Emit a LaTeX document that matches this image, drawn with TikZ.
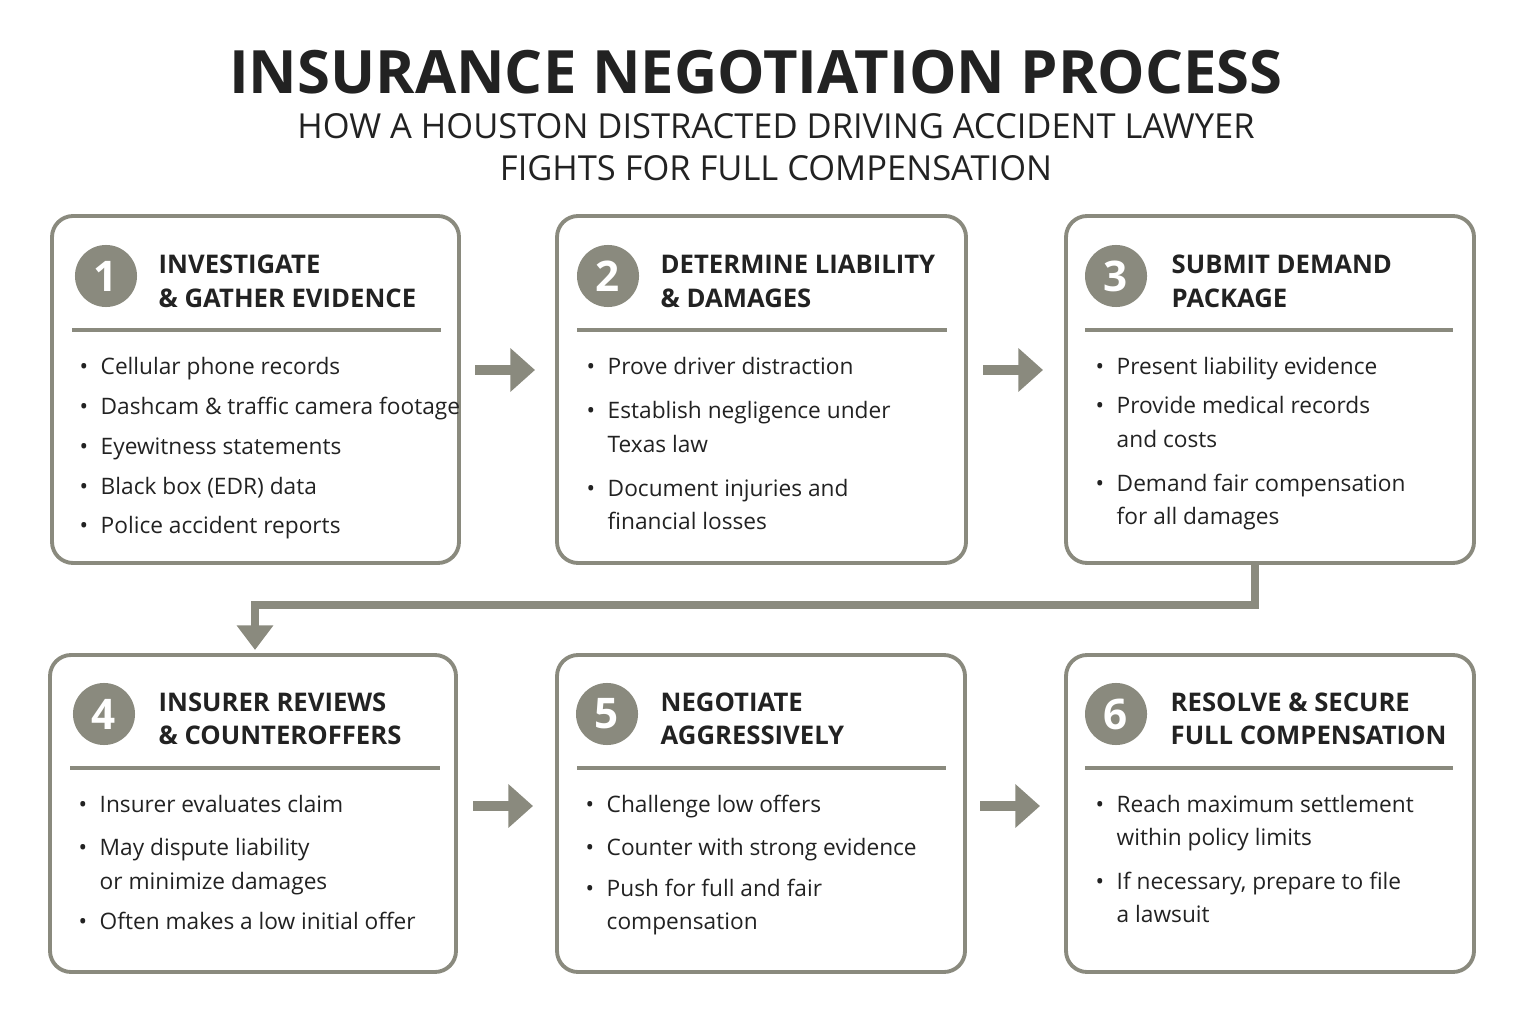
\documentclass[tikz,border=0pt]{standalone}
\usepackage{fontspec}
\setmainfont{Open Sans}
\usetikzlibrary{positioning, arrows.meta}
\definecolor{stepgray}{HTML}{8A8A7E}
\definecolor{inkgray}{HTML}{222222}
\tikzset{
  box/.style={draw=stepgray, line width=1.1pt, rounded corners=6pt},
  num/.style={circle, fill=stepgray, minimum size=6.2mm, inner sep=0pt, text=white, font=\bfseries\fontsize{12}{12}\selectfont},
  head/.style={anchor=base west, font=\bfseries\fontsize{7.3}{9.4}\selectfont, text=inkgray, inner sep=0pt},
  items/.style={anchor=base west, font=\fontsize{6.45}{9.5}\selectfont, text=inkgray, inner sep=0pt},
  sep/.style={draw=stepgray, line width=0.9pt},
  nextstep/.style={draw=stepgray, line width=3pt, -{Triangle[length=7pt,width=12pt]}},
}
\newcommand{\hd}[2]{\begin{tabular}[t]{@{}l@{}}#1\\#2\end{tabular}}
\newenvironment{blist}{\begin{tabular}[t]{@{}p{2.1mm}@{}l@{}}}{\end{tabular}}
\newcommand{\bu}{\textbullet &}
\begin{document}
\begin{tikzpicture}[x=0.01cm,y=-0.01cm]
\useasboundingbox (0,0) rectangle (1522,1022);
% title
\node[font=\bfseries\fontsize{17}{17}\selectfont, text=inkgray] (title) at (756,72) {INSURANCE NEGOTIATION PROCESS};
\node[font=\fontsize{9.8}{12}\selectfont, text=inkgray, align=center] (sub) at (776,147) {HOW A HOUSTON DISTRACTED DRIVING ACCIDENT LAWYER\\FIGHTS FOR FULL COMPENSATION};

% row 1
\draw[box] (52,216) rectangle (459,563);
\node[num] (n1) at (106,276) {1};
\node[head] (h1) at (158,274) {\hd{INVESTIGATE}{\& GATHER EVIDENCE}};
\draw[sep] (72,330) -- (441,330);
\node[items] (i1) at (79,375) {\begin{blist}\bu Cellular phone records\\[1.8pt]\bu Dashcam \& traffic camera footage\\[1.8pt]\bu Eyewitness statements\\[1.8pt]\bu Black box (EDR) data\\[1.8pt]\bu Police accident reports\end{blist}};

\draw[box] (557,216) rectangle (966,563);
\node[num] (n2) at (608,276) {2};
\node[head] (h2) at (660,274) {\hd{DETERMINE LIABILITY}{\& DAMAGES}};
\draw[sep] (577,330) -- (947,330);
\node[items] (i2) at (586,375) {\begin{blist}\bu Prove driver distraction\\[3pt]\bu Establish negligence under\\ & Texas law\\[3pt]\bu Document injuries and\\ & financial losses\end{blist}};

\draw[box] (1066,216) rectangle (1474,563);
\node[num] (n3) at (1116,276) {3};
\node[head] (h3) at (1171,274) {\hd{SUBMIT DEMAND}{PACKAGE}};
\draw[sep] (1085,330) -- (1453,330);
\node[items] (i3) at (1095,375) {\begin{blist}\bu Present liability evidence\\[1.5pt]\bu Provide medical records\\ & and costs\\[3pt]\bu Demand fair compensation\\ & for all damages\end{blist}};

% row 2
\draw[box] (50,655) rectangle (456,972);
\node[num] (n4) at (104,714) {4};
\node[head] (h4) at (158,711) {\hd{INSURER REVIEWS}{\& COUNTEROFFERS}};
\draw[sep] (70,768) -- (440,768);
\node[items] (i4) at (78,812) {\begin{blist}\bu Insurer evaluates claim\\[3pt]\bu May dispute liability\\ & or minimize damages\\[2pt]\bu Often makes a low initial offer\end{blist}};

\draw[box] (557,655) rectangle (965,972);
\node[num] (n5) at (607,714) {5};
\node[head] (h5) at (660,711) {\hd{NEGOTIATE}{AGGRESSIVELY}};
\draw[sep] (577,768) -- (946,768);
\node[items] (i5) at (585,812) {\begin{blist}\bu Challenge low offers\\[3pt]\bu Counter with strong evidence\\[2pt]\bu Push for full and fair\\ & compensation\end{blist}};

\draw[box] (1066,655) rectangle (1474,972);
\node[num] (n6) at (1116,714) {6};
\node[head] (h6) at (1170,711) {\hd{RESOLVE \& SECURE}{FULL COMPENSATION}};
\draw[sep] (1085,768) -- (1453,768);
\node[items] (i6) at (1095,812) {\begin{blist}\bu Reach maximum settlement\\ & within policy limits\\[3pt]\bu If necessary, prepare to file\\ & a lawsuit\end{blist}};

% connectors
\coordinate (a1) at (475,370); \coordinate (b1) at (535,370);
\coordinate (a2) at (983,370); \coordinate (b2) at (1043,370);
\coordinate (a4) at (473,806); \coordinate (b4) at (533,806);
\coordinate (a5) at (980,806); \coordinate (b5) at (1040,806);
\draw[nextstep] (a1) -- (b1);
\draw[nextstep] (a2) -- (b2);
\draw[nextstep] (a4) -- (b4);
\draw[nextstep] (a5) -- (b5);
\coordinate (c3) at (1255,563); \coordinate (c4) at (255,650);
\draw[draw=stepgray, line width=2.5pt, -{Triangle[length=7pt,width=10pt]}] (c3) |- (700,605) -| (c4);
\end{tikzpicture}
\end{document}
